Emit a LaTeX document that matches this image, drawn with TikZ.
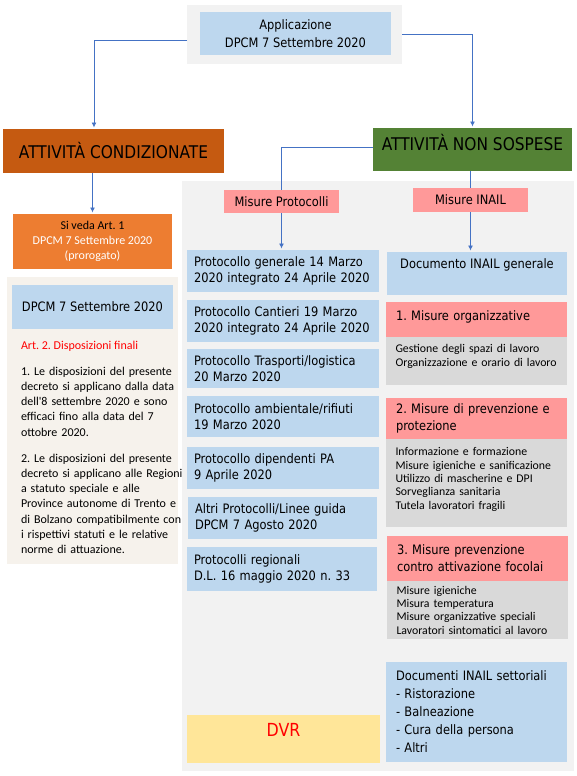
\documentclass[tikz,border=0pt]{standalone}
\usepackage{fontspec}
\setmainfont{DejaVu Sans}[FakeStretch=0.88]
\newfontfamily\calib{Carlito}
\usetikzlibrary{arrows.meta}

\definecolor{boxblue}{HTML}{BDD7EE}
\definecolor{panelgrey}{HTML}{F2F2F2}
\definecolor{listgrey}{HTML}{D9D9D9}
\definecolor{rust}{HTML}{C55A11}
\definecolor{leaf}{HTML}{548235}
\definecolor{tangerine}{HTML}{ED7D31}
\definecolor{rose}{HTML}{FF9999}
\definecolor{sand}{HTML}{F6F2EC}
\definecolor{butter}{HTML}{FFE699}
\definecolor{linkblue}{HTML}{4472C4}

\newcommand{\tah}{\fontsize{13}{15.5}\selectfont}
\newcommand{\calbody}{\calib\fontsize{12}{15.3}\selectfont}
\newcommand{\callist}{\calib\fontsize{11.8}{13.3}\selectfont}
\frenchspacing

\begin{document}
\begin{tikzpicture}[x=1pt, y=-1pt,
  box/.style={anchor=north west, inner sep=0pt, outer sep=0pt},
  cbox/.style={box, align=center, font=\tah},
  lbox/.style={box, align=left, font=\tah},
  pbox/.style={lbox, fill=boxblue, inner xsep=7pt, text width=178pt},
  rbox/.style={lbox, inner xsep=10pt, text width=161pt},
  glist/.style={box, align=left, fill=listgrey, inner xsep=9.5pt, text width=162pt, font=\callist},
  link/.style={draw=linkblue, line width=0.8pt},
  tip/.style={link, -{Latex[length=5pt,width=5pt]}, shorten >=1.5pt}]

\useasboundingbox (0,0) rectangle (577,776);

% Background panels
\node[box, fill=panelgrey, minimum width=215pt, minimum height=59pt] (topbg) at (187,5) {};
\node[box, fill=panelgrey, minimum width=392pt, minimum height=590pt] (rightbg) at (182,181) {};
\node[box, fill=sand, minimum width=171pt, minimum height=287pt] (leftbg) at (7,277) {};

% Title box
\node[cbox, fill=boxblue, minimum width=191pt, minimum height=43pt, font=\fontsize{13}{18}\selectfont] (app) at (200,12) {Applicazione\\DPCM 7 Settembre 2020};

% The two kinds of activity
\node[cbox, fill=rust, minimum width=221pt, minimum height=44pt, font=\fontsize{17.5}{20}\selectfont] (attc) at (3,129) {ATTIVITÀ CONDIZIONATE};
\node[cbox, fill=leaf, minimum width=199pt, minimum height=43pt, font=\fontsize{17.5}{20}\selectfont, text depth=15pt] (ans) at (373,128) {ATTIVITÀ NON SOSPESE};

% Left column
\node[cbox, fill=tangerine, minimum width=159pt, minimum height=55pt, font=\calbody] (siveda) at (13,214) {Si veda Art. 1\\\textcolor{white}{DPCM 7 Settembre 2020}\\\textcolor{white}{(prorogato)}};
\node[cbox, fill=boxblue, minimum width=161pt, minimum height=44pt] (dpcm) at (12,285) {DPCM 7 Settembre 2020};
\node[box, anchor=base west, text=red, font=\calbody] (art2) at (21,349) {Art. 2. Disposizioni finali};
\node[box, anchor=base west, align=left, text width=170pt, font=\calbody] (comma1) at (21,375) {1. Le disposizioni del presente\\decreto si applicano dalla data\\dell'8 settembre 2020 e sono\\efficaci fino alla data del 7\\ottobre 2020.};
\node[box, anchor=base west, align=left, text width=170pt, font=\calbody] (comma2) at (21,462) {2. Le disposizioni del presente\\decreto si applicano alle Regioni\\a statuto speciale e alle\\Province autonome di Trento e\\di Bolzano compatibilmente con\\i rispettivi statuti e le relative\\norme di attuazione.};

% Middle column: protocols
\node[cbox, fill=rose, minimum width=115pt, minimum height=23pt] (mprot) at (224,190) {Misure Protocolli};
\node[pbox, minimum height=42pt] (pgen) at (187,250) {Protocollo generale 14 Marzo\\2020 integrato 24 Aprile 2020};
\node[pbox, minimum height=42pt] (pcant) at (187,300) {Protocollo Cantieri 19 Marzo\\2020 integrato 24 Aprile 2020};
\node[pbox, minimum height=39pt] (ptrasp) at (187,349) {Protocollo Trasporti/logistica\\20 Marzo 2020};
\node[pbox, minimum height=41pt] (pamb) at (187,396) {Protocollo ambientale/rifiuti\\19 Marzo 2020};
\node[pbox, minimum height=42pt] (pdip) at (187,447) {Protocollo dipendenti PA\\9 Aprile 2020};
\node[pbox, minimum height=42pt, text width=175pt] (paltri) at (188,497) {Altri Protocolli/Linee guida\\DPCM 7 Agosto 2020};
\node[pbox, minimum height=44pt, text width=176pt] (preg) at (187,547) {Protocolli regionali\\D.L. 16 maggio 2020 n. 33};
\node[cbox, fill=butter, minimum width=193pt, minimum height=48pt, text=red, font=\fontsize{18}{21}\selectfont, text depth=18pt] (dvr) at (187,715) {DVR};

% Right column: INAIL
\node[cbox, fill=rose, minimum width=115pt, minimum height=24pt] (minail) at (413,188) {Misure INAIL};
\node[cbox, fill=boxblue, minimum width=180pt, minimum height=43pt, text depth=19.5pt] (dinail) at (387,252) {Documento INAIL generale};
\node[rbox, fill=rose, minimum height=35pt, text depth=7.5pt] (mis1) at (386,302) {1. Misure organizzative};
\node[glist, minimum height=48pt] (lst1) at (386,337) {Gestione degli spazi di lavoro\\Organizzazione e orario di lavoro\\[-2.3pt]\mbox{}};
\node[rbox, fill=rose, minimum height=41pt, font=\fontsize{13}{17}\selectfont] (mis2) at (386,398) {2. Misure di prevenzione e\\protezione};
\node[glist, minimum height=88pt] (lst2) at (386,439) {Informazione e formazione\\Misure igieniche e sanificazione\\Utilizzo di mascherine e DPI\\Sorveglianza sanitaria\\Tutela lavoratori fragili\\[-4.3pt]\mbox{}};
\node[rbox, fill=rose, minimum height=45pt, font=\fontsize{13}{17}\selectfont] (mis3) at (387,536) {3. Misure prevenzione\\contro attivazione focolai};
\node[glist, minimum height=58pt] (lst3) at (387,581) {Misure igieniche\\Misura temperatura\\Misure organizzative speciali\\Lavoratori sintomatici al lavoro};
\node[rbox, fill=boxblue, minimum height=100pt, font=\fontsize{13}{18}\selectfont] (dsett) at (386,662) {Documenti INAIL settoriali\\- Ristorazione\\- Balneazione\\- Cura della persona\\- Altri};

% Connectors from the title box
\draw[tip] ([yshift=-5.5pt]topbg.west) -| ([xshift=-19.5pt]attc.north);
\draw[tip] (topbg.east) -| (ans.north);

% Connector down the left column
\draw[tip] (attc.south -| siveda.north) -- (siveda.north);

% Connectors under ATTIVITÀ NON SOSPESE
\draw[link] ([yshift=2.5pt]ans.west) -| (mprot.north);
\draw[tip] (mprot.south) -- (mprot.south |- pgen.north);
\draw[link] (ans.south -| minail.north) -- (minail.north);
\draw[tip] (minail.south) -- (minail.south |- dinail.north);

\end{tikzpicture}
\end{document}
